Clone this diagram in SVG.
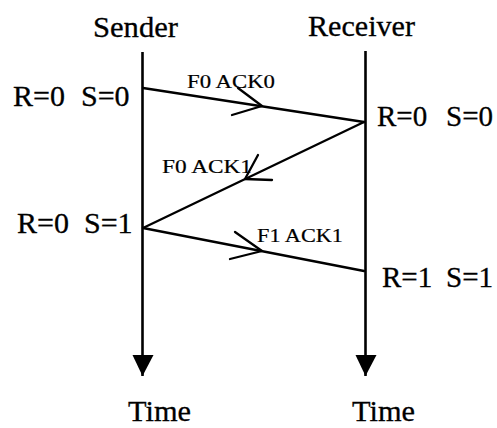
<svg xmlns="http://www.w3.org/2000/svg" width="497" height="428" viewBox="0 0 497 428">
<style>
text{font-family:"Liberation Serif","Times New Roman",serif;fill:#000;stroke:#000;stroke-width:0.3}
.hd{font-size:29px}
.st{font-size:30px}
.sr{font-size:29px}
.lb{font-size:19px;stroke-width:0.2}
.life{stroke:#000;stroke-width:2.6;fill:none}
.msg{stroke:#000;stroke-width:2.3;fill:none;stroke-linecap:round;stroke-linejoin:round}
</style>
<defs>
<marker id="tip" markerWidth="22" markerHeight="22" viewBox="0 0 22 22" refX="21" refY="11" orient="auto" markerUnits="userSpaceOnUse">
<path d="M0,0 L21,11 L0,21 Z" fill="#000"/>
</marker>
</defs>
<rect width="497" height="428" fill="#fff"/>
<g id="sender">
<text class="hd" x="93" y="37" textLength="85" lengthAdjust="spacingAndGlyphs">Sender</text>
<line class="life" x1="142.5" y1="52" x2="142.5" y2="376" marker-end="url(#tip)"/>
<text class="hd" x="128" y="421" textLength="63" lengthAdjust="spacingAndGlyphs">Time</text>
</g>
<g id="receiver">
<text class="hd" x="308" y="36" textLength="107" lengthAdjust="spacingAndGlyphs">Receiver</text>
<line class="life" x1="365.5" y1="51" x2="365.5" y2="376" marker-end="url(#tip)"/>
<text class="hd" x="352" y="421" textLength="63" lengthAdjust="spacingAndGlyphs">Time</text>
</g>
<g id="state-s1">
<text class="st" y="106"><tspan x="13">R=0</tspan><tspan x="81">S=0</tspan></text>
</g>
<g id="state-r1">
<text class="sr" y="126"><tspan x="377">R=0</tspan><tspan x="446">S=0</tspan></text>
</g>
<g id="state-s2">
<text class="st" y="233"><tspan x="17">R=0</tspan><tspan x="84">S=1</tspan></text>
</g>
<g id="state-r2">
<text class="sr" y="287"><tspan x="382">R=1</tspan><tspan x="446">S=1</tspan></text>
</g>
<g id="connectors">
<line class="msg" x1="143" y1="88" x2="364" y2="122"/>
<polyline class="msg" points="238,88 262,106 232,115"/>
<line class="msg" x1="364" y1="122" x2="143" y2="228"/>
<polyline class="msg" points="258,155 245,179 272,180"/>
<line class="msg" x1="143" y1="228" x2="364" y2="271"/>
<polyline class="msg" points="235,232 262,251 230,259"/>
</g>
<g id="labels">
<text class="lb" x="187" y="88" textLength="88" lengthAdjust="spacingAndGlyphs">F0 ACK0</text>
<text class="lb" x="162" y="173" textLength="90" lengthAdjust="spacingAndGlyphs">F0 ACK1</text>
<text class="lb" x="257" y="242" textLength="86" lengthAdjust="spacingAndGlyphs">F1 ACK1</text>
</g>
</svg>
